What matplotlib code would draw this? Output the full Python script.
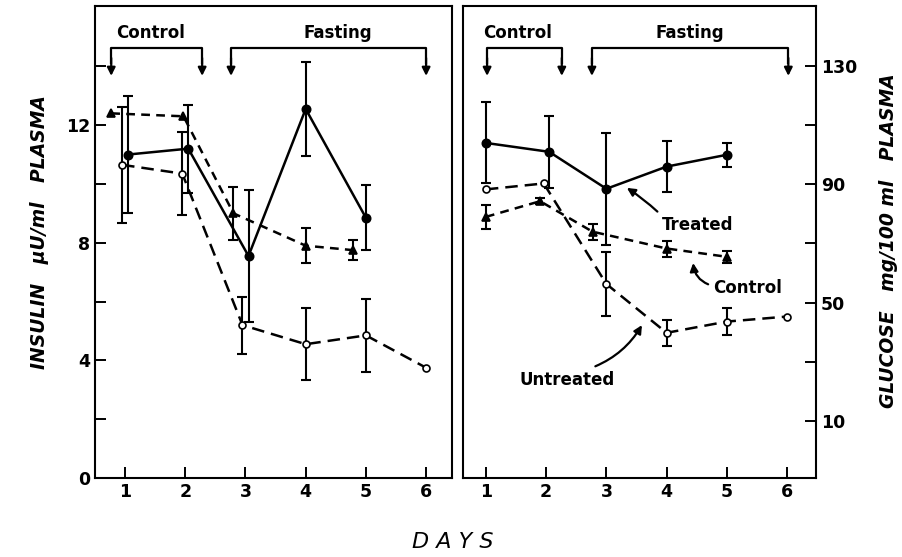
import matplotlib

matplotlib.use("Agg")
import matplotlib.pyplot as plt
from matplotlib import transforms

# ---- insulin panel (left), uU/ml --------------------------------------------
ins_treated_day = [1.05, 2.05, 3.05, 4.0, 5.0]
ins_treated = [11.0, 11.2, 7.55, 12.55, 8.85]
ins_treated_err = [2.0, 1.5, 2.25, 1.6, 1.1]

ins_control_day = [0.77, 1.97, 2.8, 4.0, 4.78]
ins_control = [12.4, 12.3, 9.0, 7.9, 7.75]
ins_control_err = [0.0, 0.0, 0.9, 0.6, 0.35]

ins_untreated_day = [0.95, 1.95, 2.95, 4.0, 5.0, 6.0]
ins_untreated = [10.65, 10.35, 5.2, 4.55, 4.85, 3.75]
ins_untreated_err = [1.97, 1.4, 0.97, 1.23, 1.23, 0.0]

# ---- glucose panel (right), mg/100 ml ---------------------------------------
glu_treated_day = [1.0, 2.05, 3.0, 4.0, 5.0]
glu_treated = [104.0, 101.0, 88.5, 96.0, 100.0]
glu_treated_err = [13.7, 12.1, 19.0, 8.7, 4.0]

glu_control_day = [1.0, 1.9, 2.77, 4.0, 5.0]
glu_control = [79.0, 84.3, 74.0, 68.3, 65.5]
glu_control_err = [4.0, 1.0, 2.7, 2.7, 2.0]

glu_untreated_day = [1.0, 1.96, 3.0, 4.0, 5.0, 6.0]
glu_untreated = [88.3, 90.3, 56.3, 39.8, 43.6, 45.3]
glu_untreated_err = [0.0, 0.0, 10.9, 4.4, 4.7, 0.0]

# period brackets (start day, end day, label, label x)
left_periods = [(0.77, 2.28, "Control", 1.42), (2.76, 6.0, "Fasting", 4.54)]
right_periods = [(1.02, 2.26, "Control", 1.53), (2.76, 6.02, "Fasting", 4.39)]

days = [1, 2, 3, 4, 5, 6]
ins_ticks = [0, 4, 8, 12]
ins_minor = [2, 6, 10, 14]
glu_ticks = [10, 50, 90, 130]
glu_minor = [30, 70, 110]

BOLD = dict(fontweight="bold", fontsize=12)
LW = 1.8


def draw_series(ax, x, y, err, marker, mfc, dashes, ms):
    ax.plot(x, y, color="k", lw=LW, dashes=dashes, marker=marker, ms=ms,
            mfc=mfc, mec="k", mew=1.2, zorder=3)
    xe = [a for a, e in zip(x, err) if e > 0]
    ye = [b for b, e in zip(y, err) if e > 0]
    ee = [e for e in err if e > 0]
    ax.errorbar(xe, ye, yerr=ee, fmt="none", ecolor="k", elinewidth=1.5,
                capsize=3.5, capthick=1.5, zorder=2)


def draw_periods(ax, periods):
    tr = transforms.blended_transform_factory(ax.transData, ax.transAxes)
    for x0, x1, label, xt in periods:
        ax.plot([x0, x0, x1, x1], [0.88, 0.911, 0.911, 0.88], color="k",
                lw=1.6, transform=tr, clip_on=False)
        for xa in (x0, x1):
            ax.annotate("", xy=(xa, 0.852), xycoords=tr,
                        xytext=(xa, 0.89), textcoords=tr,
                        arrowprops=dict(arrowstyle="-|>", color="k", lw=1.6,
                                        mutation_scale=12, shrinkA=0,
                                        shrinkB=0))
        ax.text(xt, 0.943, label, transform=tr, ha="center", va="center",
                **BOLD)


def style_axes(ax):
    for s in ax.spines.values():
        s.set_linewidth(1.5)
    ax.tick_params(which="both", direction="in", width=1.4, labelsize=12.5)
    ax.tick_params(which="major", length=8)
    ax.tick_params(which="minor", length=8)
    for t in ax.get_xticklabels() + ax.get_yticklabels():
        t.set_fontweight("bold")


fig = plt.figure(figsize=(9.02, 5.57), dpi=100)
ax0 = fig.add_axes([0.1053, 0.1418, 0.3958, 0.8474])
ax1 = fig.add_axes([0.5133, 0.1418, 0.3914, 0.8474])

# --- left: insulin ---
draw_series(ax0, ins_treated_day, ins_treated, ins_treated_err, "o", "k",
            (None, None), 6)
draw_series(ax0, ins_control_day, ins_control, ins_control_err, "^", "k",
            (3.5, 2.5), 6)
draw_series(ax0, ins_untreated_day, ins_untreated, ins_untreated_err, "o",
            "w", (5, 2.8), 5)
ax0.set_xlim(0.5, 6.43)
ax0.set_ylim(0, 16.05)
ax0.set_xticks(days)
ax0.set_yticks(ins_ticks)
ax0.set_yticks(ins_minor, minor=True)
draw_periods(ax0, left_periods)
style_axes(ax0)

# --- right: glucose ---
draw_series(ax1, glu_treated_day, glu_treated, glu_treated_err, "o", "k",
            (None, None), 6)
draw_series(ax1, glu_control_day, glu_control, glu_control_err, "^", "k",
            (3.5, 2.5), 6)
draw_series(ax1, glu_untreated_day, glu_untreated, glu_untreated_err, "o",
            "w", (5, 2.8), 5)
ax1.set_xlim(0.62, 6.48)
ax1.set_ylim(-9.3, 150.3)
ax1.set_xticks(days)
ax1.yaxis.tick_right()
ax1.set_yticks(glu_ticks)
ax1.set_yticks(glu_minor, minor=True)
draw_periods(ax1, right_periods)
style_axes(ax1)

ax1.annotate("Treated", xy=(3.34, 88.8), xytext=(4.52, 76.2), ha="center",
             va="center", **BOLD,
             arrowprops=dict(arrowstyle="-|>", color="k", lw=1.6,
                             mutation_scale=12, relpos=(0.0, 1.0),
                             shrinkA=2, shrinkB=0,
                             connectionstyle="arc3,rad=0.05"))
ax1.annotate("Control", xy=(4.44, 63.4), xytext=(5.35, 55.0), ha="center",
             va="center", **BOLD,
             arrowprops=dict(arrowstyle="-|>", color="k", lw=1.6,
                             mutation_scale=12, relpos=(0.0, 0.6),
                             shrinkA=2, shrinkB=0,
                             connectionstyle="arc3,rad=-0.35"))
ax1.annotate("Untreated", xy=(3.59, 42.4), xytext=(2.35, 23.8), ha="center",
             va="center", **BOLD,
             arrowprops=dict(arrowstyle="-|>", color="k", lw=1.6,
                             mutation_scale=12, relpos=(0.65, 1.0),
                             shrinkA=4, shrinkB=0,
                             connectionstyle="arc3,rad=0.2"))

fig.text(40 / 902, 1 - 232 / 557, "INSULIN   \u03bcU/ml   PLASMA",
         rotation=90, ha="center", va="center", fontsize=13.5,
         fontweight="bold", style="italic")
fig.text(888 / 902, 1 - 241 / 557, "GLUCOSE   mg/100 ml   PLASMA",
         rotation=90, ha="center", va="center", fontsize=13.5,
         fontweight="bold", style="italic")
fig.text(453 / 902, 1 - 542 / 557, "D A Y S", ha="center", va="center",
         fontsize=16, style="italic")

fig.savefig("out.png", dpi=100)
